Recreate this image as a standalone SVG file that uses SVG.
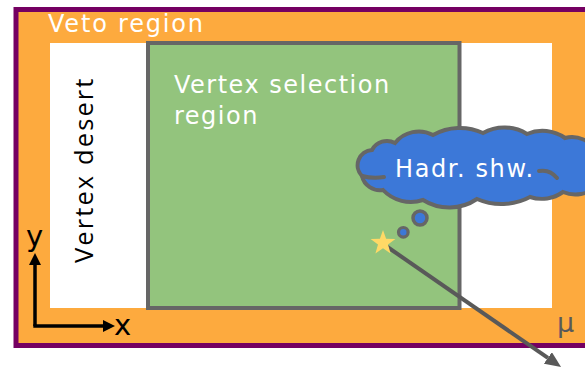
<svg xmlns="http://www.w3.org/2000/svg" width="585" height="369" viewBox="0 0 585 369">
<style>
.lbl{font-family:"DejaVu Sans",sans-serif;font-size:24px;fill:#ffffff}
.axis{stroke:#000;stroke-width:3.5;fill:none}
.ray{stroke:#595959;stroke-width:4;fill:none}
.edge{stroke:#666666;stroke-width:4;fill:none;stroke-linecap:round}
</style>
<defs>
<marker id="ah" viewBox="0 0 12 12" refX="0" refY="6" markerWidth="12" markerHeight="12" markerUnits="userSpaceOnUse" orient="auto">
<path d="M0,0 L12,6 L0,12 z" fill="#000"/>
</marker>
<marker id="ahg" viewBox="0 0 16 14" refX="0" refY="7" markerWidth="16" markerHeight="14" markerUnits="userSpaceOnUse" orient="auto">
<path d="M0,0 L16,7 L0,14 z" fill="#595959"/>
</marker>
</defs>
<rect width="585" height="369" fill="#ffffff"/>
<g id="veto">
<rect x="16" y="9.5" width="580" height="336" fill="#fdaa3e" stroke="#750062" stroke-width="5"/>
<text class="lbl" x="48" y="32" letter-spacing="1.8">Veto region</text>
</g>
<g id="desert">
<rect x="50" y="43" width="502" height="265" fill="#ffffff"/>
<text transform="translate(93,263) rotate(-90)" x="0" y="0" font-family="'Open Sans',sans-serif" font-size="25.5" letter-spacing="2.1" fill="#000">Vertex desert</text>
</g>
<g id="selection">
<rect x="148" y="43" width="311.5" height="265" fill="#93c47d" stroke="#666666" stroke-width="4"/>
<text class="lbl" x="174" y="93" letter-spacing="1.5">Vertex selection</text>
<text class="lbl" x="174" y="124" letter-spacing="1.5">region</text>
</g>
<g id="connectors">
<line class="axis" x1="35" y1="326" x2="35" y2="265" marker-end="url(#ah)"/>
<line class="axis" x1="33.3" y1="326" x2="103" y2="326" marker-end="url(#ah)"/>
<line class="ray" x1="386" y1="246" x2="547.9" y2="357.9" marker-end="url(#ahg)"/>
</g>
<g id="axes-labels">
<text x="26" y="246" font-family="'DejaVu Sans',sans-serif" font-size="29" fill="#000">y</text>
<text x="114" y="335" font-family="'DejaVu Sans',sans-serif" font-size="29" fill="#000">x</text>
</g>
<g id="shower">
<path d="M383,190 A18.4,18.4 0 0 1 362,176 A15.3,15.3 0 0 1 372,150 A16.9,16.9 0 0 1 395,143 A30.4,30.4 0 0 1 433,135 A55,55 0 0 1 483,133 A43,43 0 0 1 527,134 A39,39 0 0 1 565,138 A28.5,28.5 0 0 1 597,152 L597,186 A32,32 0 0 1 563,192 A37,37 0 0 1 530,197 A61.5,61.5 0 0 1 477,199 A49.6,49.6 0 0 1 423,200 A38.3,38.3 0 0 1 383,190 Z" fill="#3c78d8" stroke="#666666" stroke-width="4"/>
<path class="edge" d="M362,176 Q373,179 384,177"/>
<path class="edge" d="M539,171 Q550,169 557,178"/>
<text class="lbl" x="395" y="177" letter-spacing="1.6">Hadr. shw.</text>
<circle cx="420" cy="218" r="7" fill="#3c78d8" stroke="#666666" stroke-width="3.5"/>
<circle cx="403.3" cy="232.3" r="4.8" fill="#3c78d8" stroke="#666666" stroke-width="3.2"/>
</g>
<g id="vertex">
<polygon points="383,230 386.1,238.7 395.4,239 388,244.6 390.6,253.5 383,248.3 375.4,253.5 378,244.6 370.6,239 379.9,238.7" fill="#ffd966"/>
</g>
<g id="muon">
<text x="557" y="332" font-family="'DejaVu Sans',sans-serif" font-size="27" fill="#595959">μ</text>
</g>
</svg>
